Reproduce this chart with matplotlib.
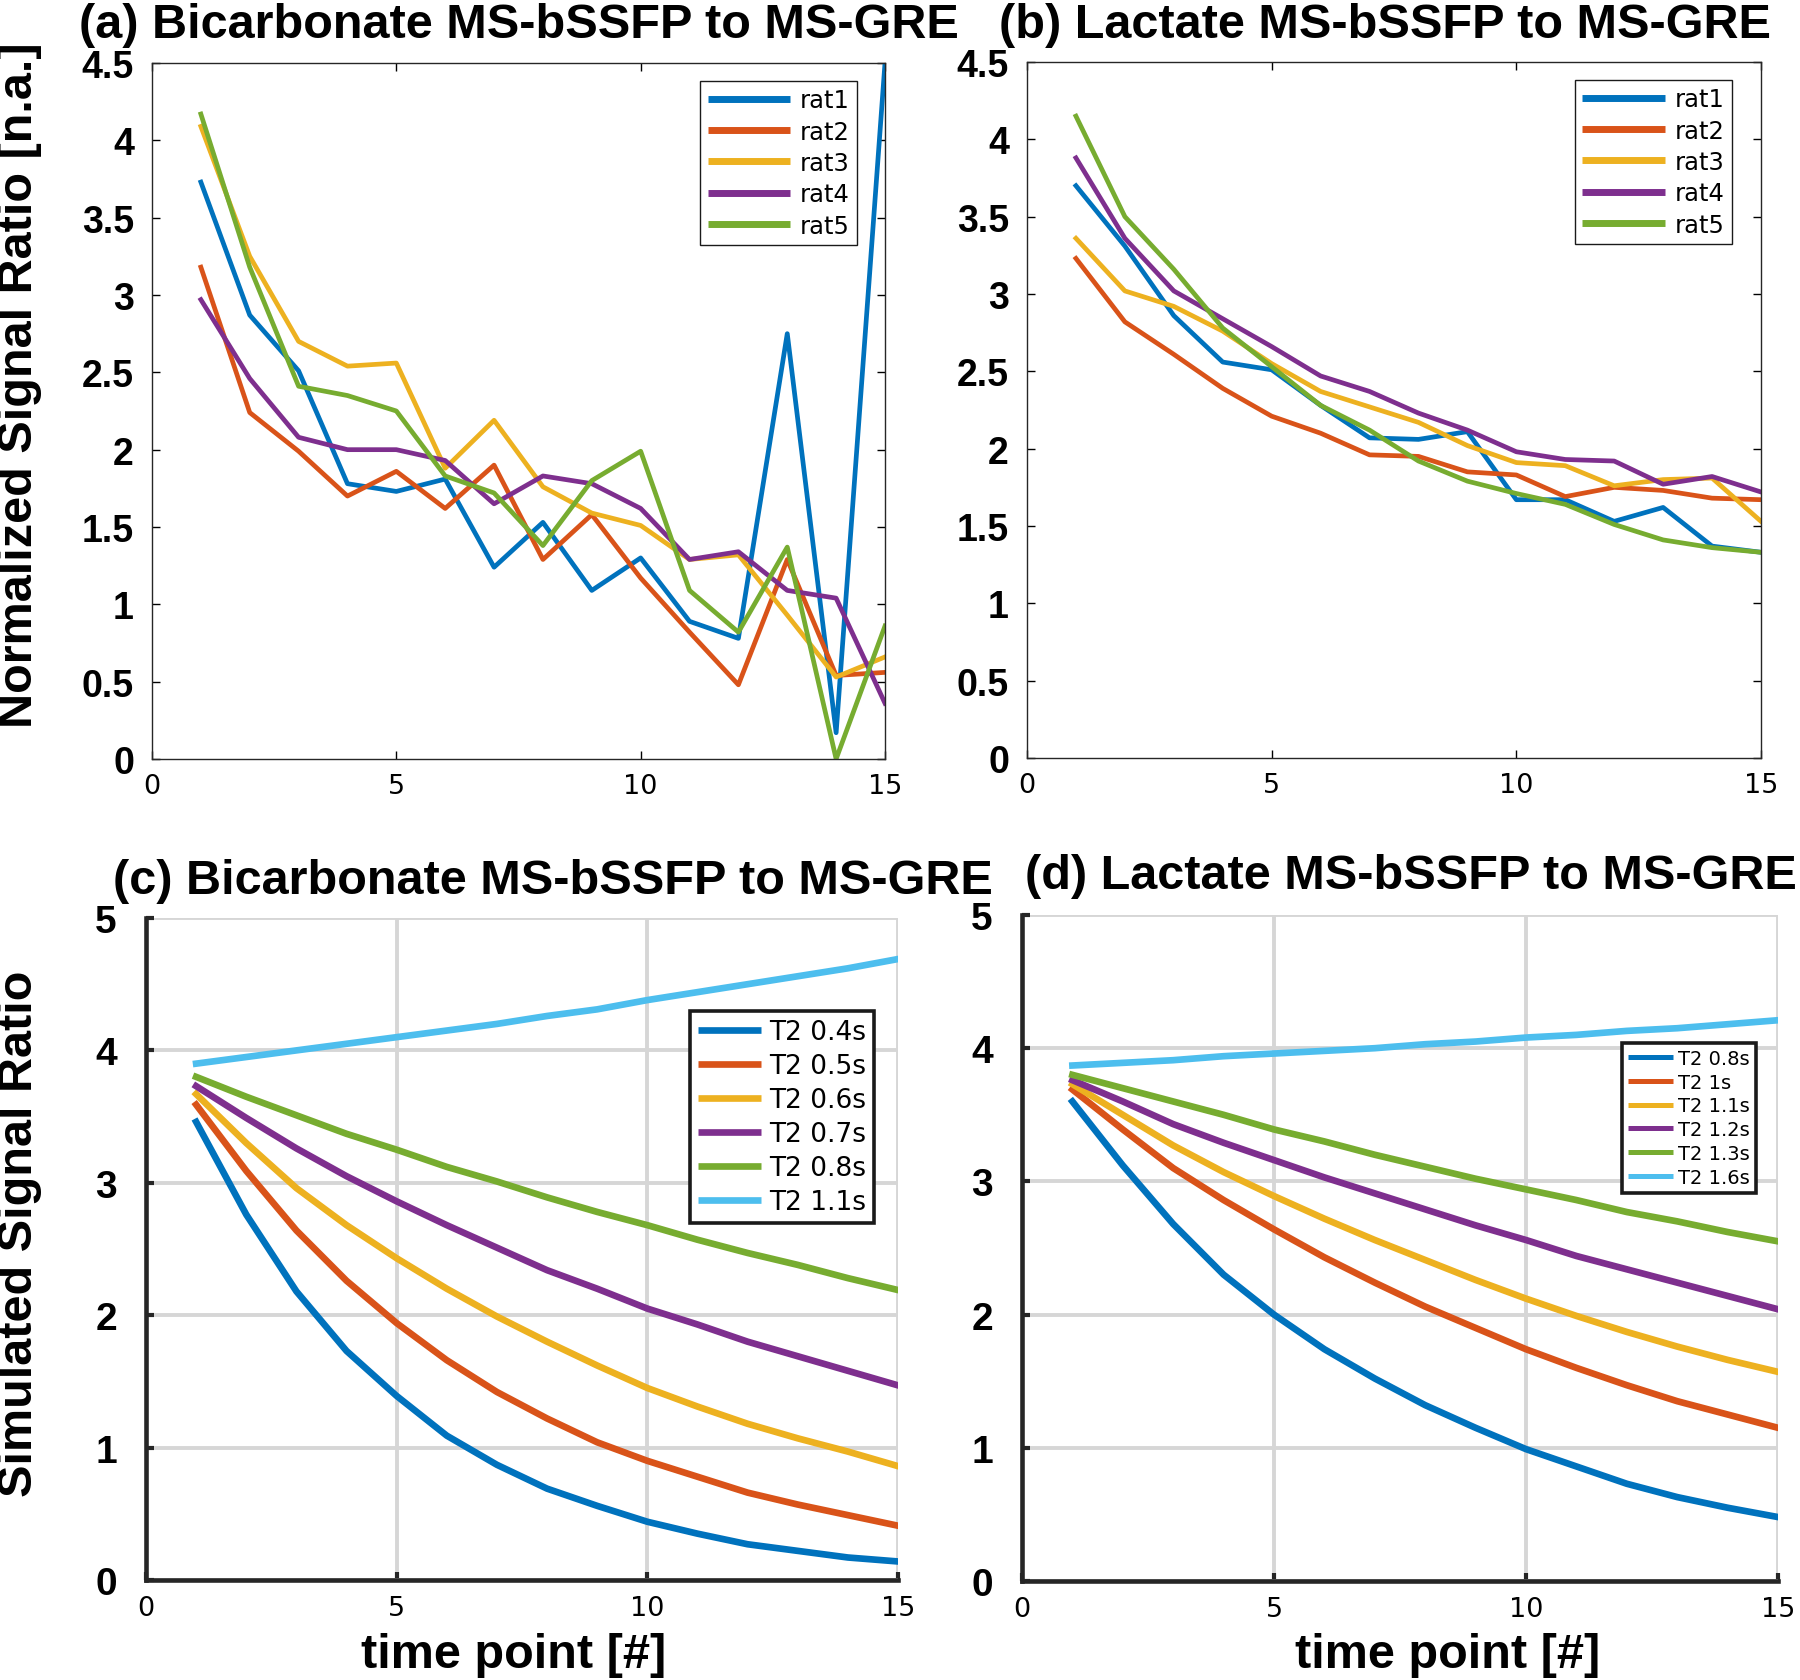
import matplotlib
matplotlib.use('Agg')
import matplotlib.pyplot as plt

# 時間軸
time_pts = list(range(1, 16))

# (a) Bicarbonate 実測 (ラット別)
rat_labels = ['rat1', 'rat2', 'rat3', 'rat4', 'rat5']
bic_rat1 = [3.73, 2.87, 2.51, 1.78, 1.73, 1.81, 1.24, 1.53, 1.09, 1.30, 0.89, 0.78, 2.75, 0.17, 4.50]
bic_rat2 = [3.18, 2.24, 1.99, 1.70, 1.86, 1.62, 1.90, 1.29, 1.58, 1.17, 0.82, 0.48, 1.29, 0.54, 0.56]
bic_rat3 = [4.09, 3.25, 2.70, 2.54, 2.56, 1.88, 2.19, 1.76, 1.59, 1.51, 1.29, 1.32, 0.93, 0.53, 0.66]
bic_rat4 = [2.97, 2.46, 2.08, 2.00, 2.00, 1.93, 1.65, 1.83, 1.78, 1.62, 1.29, 1.34, 1.09, 1.04, 0.36]
bic_rat5 = [4.17, 3.18, 2.41, 2.35, 2.25, 1.83, 1.72, 1.38, 1.80, 1.99, 1.09, 0.82, 1.37, 0.00, 0.86]

# (b) Lactate 実測 (ラット別)
lac_rat1 = [3.70, 3.31, 2.86, 2.56, 2.51, 2.28, 2.07, 2.06, 2.11, 1.67, 1.67, 1.53, 1.62, 1.37, 1.33]
lac_rat2 = [3.23, 2.82, 2.61, 2.39, 2.21, 2.10, 1.96, 1.95, 1.85, 1.83, 1.69, 1.75, 1.73, 1.68, 1.67]
lac_rat3 = [3.36, 3.02, 2.92, 2.76, 2.55, 2.37, 2.27, 2.17, 2.02, 1.91, 1.89, 1.76, 1.80, 1.81, 1.53]
lac_rat4 = [3.88, 3.36, 3.02, 2.84, 2.66, 2.47, 2.37, 2.23, 2.12, 1.98, 1.93, 1.92, 1.77, 1.82, 1.72]
lac_rat5 = [4.15, 3.50, 3.16, 2.78, 2.53, 2.28, 2.12, 1.92, 1.79, 1.71, 1.64, 1.51, 1.41, 1.36, 1.33]

# (c) Bicarbonate シミュレーション (T2別)
bic_t2_labels = ['T2 0.4s', 'T2 0.5s', 'T2 0.6s', 'T2 0.7s', 'T2 0.8s', 'T2 1.1s']
bic_t2_04 = [3.46, 2.76, 2.18, 1.73, 1.39, 1.09, 0.87, 0.69, 0.56, 0.44, 0.35, 0.27, 0.22, 0.17, 0.14]
bic_t2_05 = [3.59, 3.09, 2.64, 2.26, 1.94, 1.66, 1.42, 1.22, 1.04, 0.90, 0.78, 0.66, 0.57, 0.49, 0.41]
bic_t2_06 = [3.67, 3.30, 2.96, 2.68, 2.43, 2.20, 1.99, 1.80, 1.62, 1.45, 1.31, 1.18, 1.07, 0.97, 0.86]
bic_t2_07 = [3.73, 3.49, 3.26, 3.05, 2.86, 2.68, 2.51, 2.34, 2.20, 2.05, 1.93, 1.80, 1.69, 1.58, 1.47]
bic_t2_08 = [3.80, 3.65, 3.51, 3.37, 3.25, 3.12, 3.01, 2.89, 2.78, 2.68, 2.57, 2.47, 2.38, 2.28, 2.19]
bic_t2_11 = [3.90, 3.95, 4.00, 4.05, 4.10, 4.15, 4.20, 4.26, 4.31, 4.38, 4.44, 4.50, 4.56, 4.62, 4.69]

# (d) Lactate シミュレーション (T2別)
lac_t2_labels = ['T2 0.8s', 'T2 1s', 'T2 1.1s', 'T2 1.2s', 'T2 1.3s', 'T2 1.6s']
lac_t2_08 = [3.60, 3.12, 2.68, 2.30, 2.00, 1.74, 1.52, 1.32, 1.15, 0.99, 0.86, 0.73, 0.63, 0.55, 0.48]
lac_t2_10 = [3.69, 3.39, 3.10, 2.86, 2.64, 2.43, 2.24, 2.06, 1.90, 1.74, 1.60, 1.47, 1.35, 1.25, 1.15]
lac_t2_11 = [3.73, 3.50, 3.27, 3.07, 2.89, 2.72, 2.56, 2.41, 2.26, 2.12, 1.99, 1.87, 1.76, 1.66, 1.57]
lac_t2_12 = [3.76, 3.60, 3.43, 3.29, 3.16, 3.03, 2.91, 2.79, 2.67, 2.56, 2.44, 2.34, 2.24, 2.14, 2.04]
lac_t2_13 = [3.80, 3.70, 3.60, 3.50, 3.39, 3.30, 3.20, 3.11, 3.02, 2.94, 2.86, 2.77, 2.70, 2.62, 2.55]
lac_t2_16 = [3.87, 3.89, 3.91, 3.94, 3.96, 3.98, 4.00, 4.03, 4.05, 4.08, 4.10, 4.13, 4.15, 4.18, 4.21]

# MATLAB標準の色
colors = ['#0072BD', '#D95319', '#EDB120', '#7E2F8E', '#77AC30', '#4DBEEE']

W, H = 1800, 1681
BOLD = 'Liberation Sans'
NORM = 'DejaVu Sans'


def pxAxes(fig, left, top, right, bottom):
    """ピクセル指定で軸を作成"""
    return fig.add_axes([left / W, 1 - bottom / H, (right - left) / W, (bottom - top) / H])


def styleData(ax):
    """(a)(b) 実測グラフの見た目"""
    ax.set_xlim(0, 15)
    ax.set_ylim(0, 4.5)
    ax.set_xticks([0, 5, 10, 15])
    yt = [i * 0.5 for i in range(10)]
    ax.set_yticks(yt)
    ax.set_yticklabels([f'{v:g}' for v in yt], fontfamily=BOLD, fontweight='bold', fontsize=27)
    ax.set_xticklabels(['0', '5', '10', '15'], fontfamily=NORM, fontsize=19.5)
    ax.tick_params(axis='both', direction='in', length=6, width=1.0,
                   top=True, right=True)
    ax.tick_params(axis='x', pad=10)
    ax.tick_params(axis='y', pad=13)
    for sp in ax.spines.values():
        sp.set_linewidth(1.0)
        sp.set_color('#262626')


def styleSim(ax):
    """(c)(d) シミュレーショングラフの見た目"""
    ax.set_xlim(0, 15)
    ax.set_ylim(0, 5)
    ax.set_xticks([0, 5, 10, 15])
    ax.set_yticks(range(6))
    ax.set_yticklabels([str(v) for v in range(6)], fontfamily=BOLD, fontweight='bold', fontsize=28)
    ax.set_xticklabels(['0', '5', '10', '15'], fontfamily=NORM, fontsize=19.5)
    ax.tick_params(axis='both', direction='in', length=6, width=3, color='#262626')
    ax.tick_params(axis='x', pad=11)
    ax.tick_params(axis='y', pad=21)
    ax.grid(True, color='#d6d6d6', linewidth=2.8)
    ax.set_axisbelow(True)
    ax.spines['top'].set_visible(False)
    ax.spines['right'].set_visible(False)
    for s in ['left', 'bottom']:
        ax.spines[s].set_linewidth(3.3)
        ax.spines[s].set_color('#262626')


def plotSet(ax, series, labels, lw):
    for i, (ys, lab) in enumerate(zip(series, labels)):
        ax.plot(time_pts, ys, color=colors[i], linewidth=lw, label=lab)


def addLegend(ax, pos, size, hlen, lspace, tpad, frame_lw, handle_lw):
    leg = ax.legend(loc='upper right', bbox_to_anchor=pos, borderaxespad=0,
                    prop={'family': NORM, 'size': size}, handlelength=hlen,
                    handletextpad=tpad, labelspacing=lspace, fancybox=False,
                    edgecolor='#1a1a1a', framealpha=1, borderpad=0.3)
    leg.get_frame().set_linewidth(frame_lw)
    for ln in leg.get_lines():
        ln.set_linewidth(handle_lw)
        ln.set_solid_capstyle('butt')
    return leg


fig = plt.figure(figsize=(W / 100, H / 100), dpi=100)

ax_a = pxAxes(fig, 152, 64, 885, 760)
ax_b = pxAxes(fig, 1027, 63, 1761, 759)
ax_c = pxAxes(fig, 146, 919, 898, 1581)
ax_d = pxAxes(fig, 1022, 916, 1778, 1582)

# (a)
plotSet(ax_a, [bic_rat1, bic_rat2, bic_rat3, bic_rat4, bic_rat5], rat_labels, 3.4)
styleData(ax_a)
addLegend(ax_a, (0.962, 0.974), 17.5, 3.4, 0.3, 0.4, 1.0, 5)

# (b)
plotSet(ax_b, [lac_rat1, lac_rat2, lac_rat3, lac_rat4, lac_rat5], rat_labels, 3.4)
styleData(ax_b)
addLegend(ax_b, (0.960, 0.974), 17.5, 3.4, 0.3, 0.4, 1.0, 5)

# (c)
plotSet(ax_c, [bic_t2_04, bic_t2_05, bic_t2_06, bic_t2_07, bic_t2_08, bic_t2_11], bic_t2_labels, 4.8)
styleSim(ax_c)
addLegend(ax_c, (0.968, 0.859), 19, 2.4, 0.3, 0.3, 2.6, 4.8)

# (d)
plotSet(ax_d, [lac_t2_08, lac_t2_10, lac_t2_11, lac_t2_12, lac_t2_13, lac_t2_16], lac_t2_labels, 4.8)
styleSim(ax_d)
addLegend(ax_d, (0.971, 0.808), 14, 2.3, 0.25, 0.3, 2.6, 3.6)


# タイトル・軸ラベル
def figText(x, y, s, **kw):
    fig.text(x / W, 1 - y / H, s, fontfamily=BOLD, fontweight='bold', fontsize=35, **kw)


figText(519, 38, '(a) Bicarbonate MS-bSSFP to MS-GRE', ha='center', va='baseline')
figText(1385, 38, '(b) Lactate MS-bSSFP to MS-GRE', ha='center', va='baseline')
figText(553, 894, '(c) Bicarbonate MS-bSSFP to MS-GRE', ha='center', va='baseline')
figText(1411, 889, '(d) Lactate MS-bSSFP to MS-GRE', ha='center', va='baseline')

figText(20, 385, 'Normalized Signal Ratio [n.a.]', ha='center', va='center', rotation=90)
figText(20, 1234, 'Simulated Signal Ratio', ha='center', va='center', rotation=90)
figText(514, 1668, 'time point [#]', ha='center', va='baseline')
figText(1448, 1668, 'time point [#]', ha='center', va='baseline')

plt.savefig('out.png', dpi=100)
